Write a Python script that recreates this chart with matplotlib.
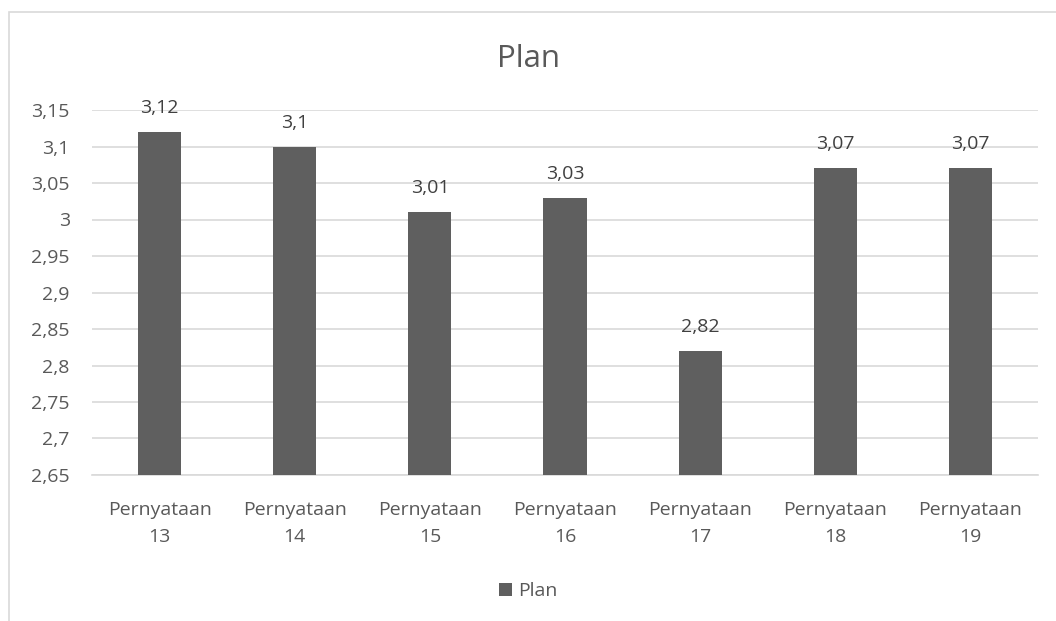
import matplotlib.pyplot as plt
from matplotlib.patches import Rectangle
import numpy as np

# ==========================================
# Data
# ==========================================

categories = ["Pernyataan\n13", "Pernyataan\n14", "Pernyataan\n15", "Pernyataan\n16",
              "Pernyataan\n17", "Pernyataan\n18", "Pernyataan\n19"]
values = [3.12, 3.1, 3.01, 3.03, 2.82, 3.07, 3.07]
series_name = "Plan"
y_ticks = [2.65, 2.7, 2.75, 2.8, 2.85, 2.9, 2.95, 3.0, 3.05, 3.1, 3.15]


def comma(v):
    return f"{v:g}".replace(".", ",")


plt.rcParams['font.family'] = ['Open Sans', 'DejaVu Sans']

text_color = "#595959"
bar_color = "#5f5f5f"
grid_color = "#d9d9d9"

# ==========================================
# Figure and axes
# ==========================================

fig = plt.figure(figsize=(10.56, 6.21), dpi=100)
ax = fig.add_axes([92 / 1056, 1 - 475 / 621, (1038 - 92) / 1056, (475 - 110) / 621])

x = np.arange(len(categories))
bars = ax.bar(x, values, width=0.32, color=bar_color, label=series_name, zorder=3)

for b, v in zip(bars, values):
    ax.text(b.get_x() + b.get_width() / 2, v + 0.026, comma(v),
            ha="center", va="baseline", fontsize=14, color="#404040", zorder=4)

ax.set_ylim(2.65, 3.15)
ax.set_xlim(-0.5, len(categories) - 0.5)
ax.set_yticks(y_ticks)
ax.set_yticklabels([comma(t) for t in y_ticks])
ax.set_xticks(x)
ax.set_xticklabels(categories, linespacing=1.65)

ax.yaxis.grid(True, color=grid_color, linewidth=1.2, zorder=0)
ax.tick_params(axis="both", length=0, labelsize=14, colors=text_color)
ax.tick_params(axis="x", pad=19)
ax.tick_params(axis="y", pad=16)
for side in ["top", "right", "left"]:
    ax.spines[side].set_visible(False)
ax.spines["bottom"].set_color(grid_color)
ax.spines["bottom"].set_linewidth(1.2)

# ==========================================
# Title, legend, border
# ==========================================

fig.text(0.5, 1 - 67 / 621, "Plan", ha="center", va="baseline",
         fontsize=22.5, color=text_color)

fig.legend(handles=[bars], labels=[series_name], loc="center",
           bbox_to_anchor=(0.5, 1 - 591 / 621), frameon=False,
           fontsize=14, labelcolor=text_color, handlelength=0.67,
           handleheight=0.67, handletextpad=0.3)

fig.patches.append(Rectangle((9 / 1056, -0.1), 1.2, 1 - 12 / 621 + 0.1,
                             transform=fig.transFigure, fill=False,
                             edgecolor=grid_color, linewidth=1.2))

fig.savefig("out.png", dpi=100)
